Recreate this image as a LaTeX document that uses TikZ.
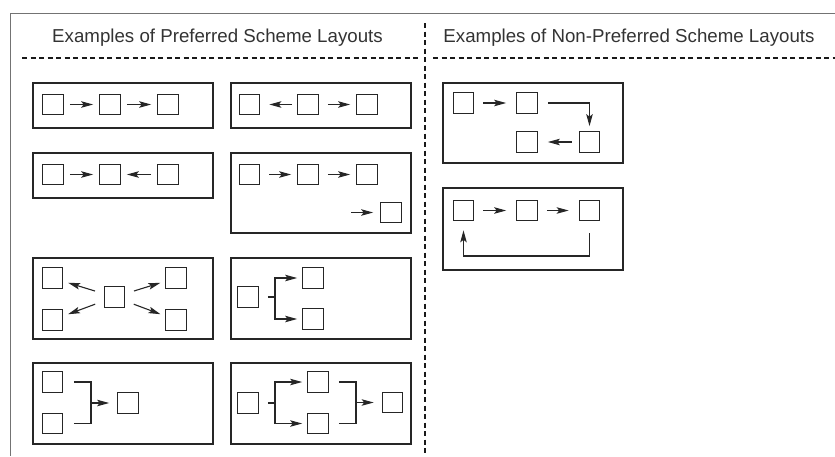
\documentclass[tikz,border=0pt]{standalone}
\usepackage{fontspec}
\setmainfont{Liberation Sans}
\usetikzlibrary{arrows.meta}

\tikzset{
  sq/.style={draw=black!85, line width=1.2pt, minimum width=20.5pt, minimum height=20.5pt, inner sep=0pt},
  panel/.style={draw=black!85, line width=1.4pt},
  ln/.style={draw=black!85, line width=1.1pt},
  arr/.style={ln, -{Stealth[length=12pt, width=6.5pt, inset=2.5pt]}},
  gap/.style={shorten <=#1, shorten >=#1},
  divider/.style={draw=black!90, line width=1.8pt, dash pattern=on 5pt off 3.5pt},
  frameline/.style={draw=black!55, line width=1pt},
  heading/.style={anchor=base, text=black!80, font=\fontsize{18.7}{22}\selectfont, inner sep=0pt}
}

\begin{document}
\begin{tikzpicture}[x=1pt, y=-1pt]
\useasboundingbox (0,0) rectangle (835,456);

% outer frame (top and left edges)
\draw[frameline] (835,13) -- (10,13) -- (10,456);

% column headings and dividers
\node[heading] (hL) at (217.5,42) {Examples of Preferred Scheme Layouts};
\node[heading] (hR) at (629,42) {Examples of Non-Preferred Scheme Layouts};
\draw[divider] (425,23) -- (425,456);
\draw[divider] (22,58) -- (419,58);
\draw[divider] (433,58) -- (835,58);

% ---------- preferred layouts ----------
% panel 1: linear, left to right
\draw[panel] (33,83) rectangle (213,128);
\node[sq] (a1) at (53,104.5) {};
\node[sq] (a2) at (110,104.5) {};
\node[sq] (a3) at (168,104.5) {};
\draw[arr, gap=6pt] (a1) -- (a2);
\draw[arr, gap=6pt] (a2) -- (a3);

% panel 2: diverging from the middle
\draw[panel] (231,83) rectangle (411,128);
\node[sq] (b1) at (249.5,104.5) {};
\node[sq] (b2) at (308,104.5) {};
\node[sq] (b3) at (367,104.5) {};
\draw[arr, shorten <=5pt, shorten >=9pt] (b2) -- (b1);
\draw[arr, shorten <=9pt, shorten >=6pt] (b2) -- (b3);

% panel 3: converging to the middle
\draw[panel] (33,153) rectangle (213,198);
\node[sq] (c1) at (53,174.5) {};
\node[sq] (c2) at (110,174.5) {};
\node[sq] (c3) at (168,174.5) {};
\draw[arr, gap=6pt] (c1) -- (c2);
\draw[arr, gap=6pt] (c3) -- (c2);

% panel 4: wrapped row
\draw[panel] (231,153) rectangle (411,233);
\node[sq] (d1) at (249.5,174.5) {};
\node[sq] (d2) at (308,174.5) {};
\node[sq] (d3) at (367,174.5) {};
\node[sq] (d4) at (391,212.5) {};
\draw[arr, shorten <=9pt, shorten >=6pt] (d1) -- (d2);
\draw[arr, shorten <=9pt, shorten >=6pt] (d2) -- (d3);
\coordinate (d4in) at (351,212.5);
\draw[arr, shorten >=7pt] (d4in) -- (d4);

% panel 5: radiating
\draw[panel] (33,258) rectangle (213,339);
\node[sq] (e0) at (114.5,297) {};
\node[sq] (e1) at (52.5,278) {};
\node[sq] (e2) at (52.5,320) {};
\node[sq] (e3) at (176,278) {};
\node[sq] (e4) at (176,320) {};
\draw[arr, shorten <=9pt, shorten >=5pt] (e0) -- (e1);
\draw[arr, shorten <=9pt, shorten >=5pt] (e0) -- (e2);
\draw[arr, shorten <=9pt, shorten >=5pt] (e0) -- (e3);
\draw[arr, shorten <=9pt, shorten >=5pt] (e0) -- (e4);

% panel 6: split
\draw[panel] (231,258) rectangle (411,339);
\node[sq] (f1) at (248,297) {};
\node[sq] (f2) at (313,278) {};
\node[sq] (f3) at (313,319) {};
\coordinate (fj) at (275,297);
\draw[ln] ([xshift=9pt]f1.east) -- (fj);
\draw[arr] (fj) |- ([xshift=-5pt]f2.west);
\draw[arr] (fj) |- ([xshift=-5pt]f3.west);

% panel 7: merge
\draw[panel] (33,363) rectangle (213,444);
\node[sq] (g1) at (52.5,382) {};
\node[sq] (g2) at (52.5,423.5) {};
\node[sq] (g3) at (128,403) {};
\coordinate (gj) at (91,403);
\draw[ln] ([xshift=10.5pt]g1.east) -| (gj);
\draw[ln] ([xshift=10.5pt]g2.east) -| (gj);
\draw[arr, shorten >=8pt] (gj) -- (g3);

% panel 8: split then merge
\draw[panel] (231,363) rectangle (411,444);
\node[sq] (h1) at (248,403) {};
\node[sq] (h2) at (318,382) {};
\node[sq] (h3) at (318,423.5) {};
\node[sq] (h4) at (392.5,402.5) {};
\coordinate (hj) at (275,403);
\draw[ln] ([xshift=9pt]h1.east) -- (hj);
\draw[arr] (hj) |- ([xshift=-5pt]h2.west);
\draw[arr] (hj) |- ([xshift=-5pt]h3.west);
\coordinate (hk) at (356,402.5);
\draw[ln] ([xshift=10pt]h2.east) -| (hk);
\draw[ln] ([xshift=10pt]h3.east) -| (hk);
\draw[arr, shorten >=8pt] (hk) -- (h4);

% ---------- non-preferred layouts ----------
% panel 9: snaking back
\draw[panel] (443,83) rectangle (623,163);
\node[sq] (p1) at (463.5,103) {};
\node[sq] (p2) at (527,103) {};
\node[sq] (p3) at (589.5,142) {};
\node[sq] (p4) at (527,142) {};
\draw[arr, shorten <=9pt, shorten >=10pt] (p1) -- (p2);
\draw[arr] ([xshift=10pt]p2.east) -| ([yshift=5pt]p3.north);
\draw[arr, shorten <=7pt, shorten >=10pt] (p3) -- (p4);

% panel 10: loop back to start
\draw[panel] (443,188) rectangle (623,270);
\node[sq] (q1) at (463.5,210.5) {};
\node[sq] (q2) at (527,210.5) {};
\node[sq] (q3) at (589.5,210.5) {};
\draw[arr, shorten <=9pt, shorten >=10pt] (q1) -- (q2);
\draw[arr, shorten <=9pt, shorten >=10pt] (q2) -- (q3);
\coordinate (qb) at (589.5,256);
\draw[arr] ([yshift=-12pt]q3.south) -- (qb) -| ([yshift=-9pt]q1.south);

\end{tikzpicture}
\end{document}
